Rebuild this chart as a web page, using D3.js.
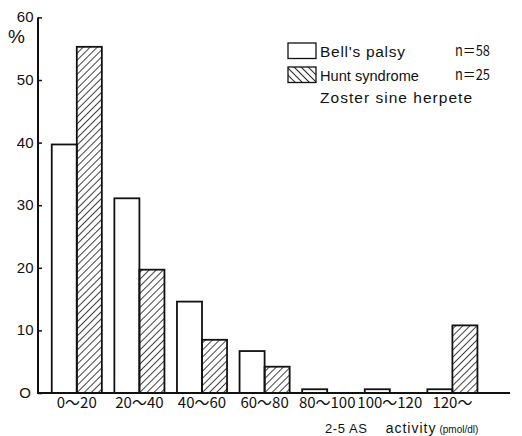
<!DOCTYPE html>
<html>
<head>
<meta charset="utf-8">
<script src="https://cdn.jsdelivr.net/npm/d3@7"></script>
<style>
  body { margin: 0; background: #fff; }
  text { font-family: "Liberation Sans", Arial, sans-serif; fill: #111; }
</style>
</head>
<body>
<div id="chart"></div>
<script>
// data (percent of patients)
var categories = ["0〜20", "20〜40", "40〜60", "60〜80", "80〜100", "100〜120", "120〜"];
var bellValues = [39.7, 31.1, 14.6, 6.7, 0.6, 0.6, 0.6];
var huntValues = [55.3, 19.7, 8.5, 4.2, 0, 0, 10.8];
var yTicks = [0, 10, 20, 30, 40, 50, 60];

var width = 522, height = 436;

var svg = d3.select("#chart")
  .append("svg")
    .attr("width", width)
    .attr("height", height);

// hatch patterns: "/" for bars, "\" for the legend swatch
var defs = svg.append("defs");
defs.append("pattern")
    .attr("id", "hatch")
    .attr("patternUnits", "userSpaceOnUse")
    .attr("width", 5).attr("height", 5)
    .attr("patternTransform", "rotate(45)")
  .append("line")
    .attr("x1", 0).attr("y1", 0).attr("x2", 0).attr("y2", 5)
    .attr("stroke", "#111").attr("stroke-width", 1.6);
defs.append("pattern")
    .attr("id", "hatch2")
    .attr("patternUnits", "userSpaceOnUse")
    .attr("width", 5).attr("height", 5)
    .attr("patternTransform", "rotate(-45)")
  .append("line")
    .attr("x1", 0).attr("y1", 0).attr("x2", 0).attr("y2", 5)
    .attr("stroke", "#111").attr("stroke-width", 1.8);

var axisX = 38, axisBottom = 393;

var y = d3.scaleLinear()
  .domain([0, 60])
  .range([axisBottom, 17.4]);

var x0 = d3.scaleBand()
  .domain(categories)
  .range([45.5, 483.7])
  .paddingInner(0.2)
  .paddingOuter(0.1);

var x1 = d3.scaleBand()
  .domain(["bell", "hunt"])
  .range([0, x0.bandwidth()]);

var rows = categories.map(function(c, i) {
  return {cat: c, bell: bellValues[i], hunt: huntValues[i]};
});

// bars
var groups = svg.selectAll("g.group")
  .data(rows)
  .enter()
  .append("g")
    .attr("class", "group")
    .attr("transform", function(d) { return "translate(" + x0(d.cat) + ",0)"; });

groups.selectAll("rect")
  .data(function(d) {
    return [{k: "bell", v: d.bell}, {k: "hunt", v: d.hunt}].filter(function(e) { return e.v > 0; });
  })
  .enter()
  .append("rect")
    .attr("x", function(d) { return x1(d.k); })
    .attr("y", function(d) { return y(d.v); })
    .attr("width", x1.bandwidth())
    .attr("height", function(d) { return axisBottom - y(d.v); })
    .attr("fill", function(d) { return d.k == "hunt" ? "url(#hatch)" : "#fff"; })
    .attr("stroke", "#111")
    .attr("stroke-width", 1.8);

// y axis
var yAxis = svg.append("g")
  .attr("transform", "translate(" + axisX + ",0)")
  .call(d3.axisRight(y).tickValues(yTicks).tickSize(4).tickFormat(""));
yAxis.select(".domain").attr("stroke", "#111").attr("stroke-width", 2)
  .attr("d", "M0," + y(60) + "V" + axisBottom);
yAxis.selectAll(".tick line").attr("stroke", "#111").attr("stroke-width", 1.5);

svg.selectAll("text.ytick")
  .data(yTicks)
  .enter()
  .append("text")
    .attr("class", "ytick")
    .attr("x", function(d) { return d == 0 ? 31 : 33.5; })
    .attr("y", function(d) { return y(d) + 5; })
    .attr("text-anchor", "end")
    .style("font-size", "15px")
    .text(function(d) { return d == 0 ? "O" : d; });

svg.append("text")
  .attr("x", 8).attr("y", 43)
  .style("font-size", "19px")
  .text("%");

// x axis line
svg.append("line")
  .attr("x1", axisX - 1).attr("x2", 510)
  .attr("y1", axisBottom).attr("y2", axisBottom)
  .attr("stroke", "#111").attr("stroke-width", 2);

svg.selectAll("text.xtick")
  .data(categories)
  .enter()
  .append("text")
    .attr("class", "xtick")
    .attr("x", function(d) { return x0(d) + x0.bandwidth() / 2; })
    .attr("y", 408)
    .attr("text-anchor", "middle")
    .style("font-family", "'Liberation Sans Narrow', 'Noto Sans CJK JP', sans-serif")
    .style("font-size", "15px")
    .text(function(d) { return d; });

// axis title
var title = svg.append("text")
  .attr("x", 325).attr("y", 433);
title.append("tspan").style("font-size", "13px").style("letter-spacing", "0.6px").text("2-5 AS");
title.append("tspan").attr("dx", 18).style("font-size", "14px").style("letter-spacing", "1px").text("activity");
title.append("tspan").attr("dx", 3).style("font-size", "10px").text("(pmol/dl)");

// legend
var legend = [
  {label: "Bell's palsy", n: "n＝58", fill: "#fff", y: 43, len: 85, adj: "spacing"},
  {label: "Hunt syndrome", n: "n＝25", fill: "url(#hatch2)", y: 67, len: 99, adj: "spacingAndGlyphs"}
];
svg.selectAll("rect.leg")
  .data(legend)
  .enter()
  .append("rect")
    .attr("class", "leg")
    .attr("x", 288).attr("y", function(d) { return d.y; })
    .attr("width", 28).attr("height", 15.5)
    .attr("fill", function(d) { return d.fill; })
    .attr("stroke", "#111").attr("stroke-width", 1.3);
svg.selectAll("text.leg")
  .data(legend)
  .enter()
  .append("text")
    .attr("class", "leg")
    .attr("x", 320).attr("y", function(d) { return d.y + 14; })
    .attr("textLength", function(d) { return d.len; })
    .attr("lengthAdjust", function(d) { return d.adj; })
    .style("font-size", "15.5px")
    .text(function(d) { return d.label; });
svg.selectAll("text.legn")
  .data(legend)
  .enter()
  .append("text")
    .attr("class", "legn")
    .attr("x", 455).attr("y", function(d) { return d.y + 13; })
    .attr("textLength", 35)
    .attr("lengthAdjust", "spacingAndGlyphs")
    .style("font-family", "'Liberation Sans Narrow', 'Noto Sans CJK JP', sans-serif")
    .style("font-size", "15px")
    .text(function(d) { return d.n; });
svg.append("text")
  .attr("x", 320).attr("y", 103)
  .attr("textLength", 152)
  .attr("lengthAdjust", "spacing")
  .style("font-size", "15.5px")
  .text("Zoster sine herpete");
</script>
</body>
</html>
